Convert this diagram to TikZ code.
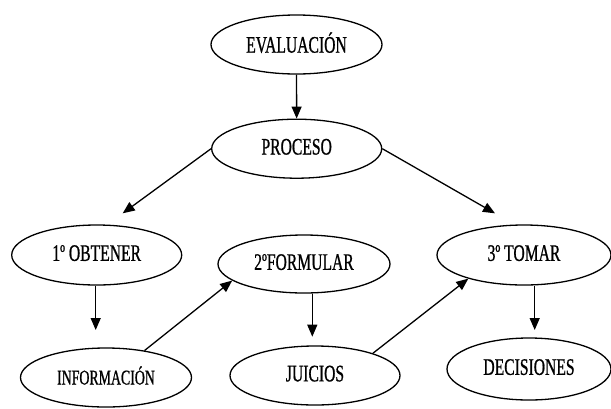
\documentclass[tikz,border=0pt]{standalone}
\usepackage{fontspec}
\setmainfont{Liberation Serif}[FakeStretch=0.66, FakeBold=0.8]
\usepackage{tikz}
\usetikzlibrary{shapes.geometric, arrows.meta}

\begin{document}
\begin{tikzpicture}[x=1pt, y=-1pt, line width=1.3pt,
        bubble/.style={draw, shape=ellipse, inner sep=0pt, text depth=4pt,
            minimum width=170pt, minimum height=59pt,
            font=\fontsize{23.7}{28}\selectfont},
        arrowline/.style={-{Triangle[length=12pt, width=10pt]}}]
        \useasboundingbox (0, 0) rectangle (611, 408);

        % Ellipses
        \node[bubble, minimum width=171pt] (evaluacion) at (296.5, 44.5) {EVALUACIÓN};
        \node[bubble] (proceso) at (296.7, 148.7) {PROCESO\hspace{31pt}};
        \node[bubble, minimum height=60pt] (obtener) at (96.7, 255) {1º OBTENER\hspace{7pt}};
        \node[bubble, minimum width=172pt, minimum height=58pt] (formular) at (304, 264) {2ºFORMULAR\hspace{6pt}};
        \node[bubble, minimum width=174pt, minimum height=60pt] (tomar) at (524, 255) {3º TOMAR\hspace{28pt}};
        \node[bubble, minimum width=171pt, font=\fontsize{21}{25}\selectfont] (informacion) at (106, 377.5) {INFORMACIÓN\hspace{8pt}};
        \node[bubble] (juicios) at (315, 375.5) {JUICIOS\hspace{46pt}};
        \node[bubble, minimum width=164pt, minimum height=62pt] (decisiones) at (529, 369) {DECISIONES};

        % Free arrow ends
        \coordinate (obtenerin) at (122.7, 213.3);
        \coordinate (tomarin) at (495, 213.3);
        \coordinate (informacionin) at (95.7, 330);
        \coordinate (juiciosin) at (312.3, 336.7);
        \coordinate (decisionesin) at (534.7, 330);

        % Arrows
        \draw[arrowline] (evaluacion) -- (proceso);
        \draw[arrowline] (proceso.west) -- (obtenerin);
        \draw[arrowline] (proceso.east) -- (tomarin);
        \draw[arrowline] (informacionin |- obtener.south) -- (informacionin);
        \draw[arrowline] (informacion.35) -- (formular.193);
        \draw[arrowline] (juiciosin |- formular.south) -- (juiciosin);
        \draw[arrowline] (juicios.21) -- (tomar.203);
        \draw[arrowline] (decisionesin |- tomar.south) -- (decisionesin);
    \end{tikzpicture}
\end{document}
